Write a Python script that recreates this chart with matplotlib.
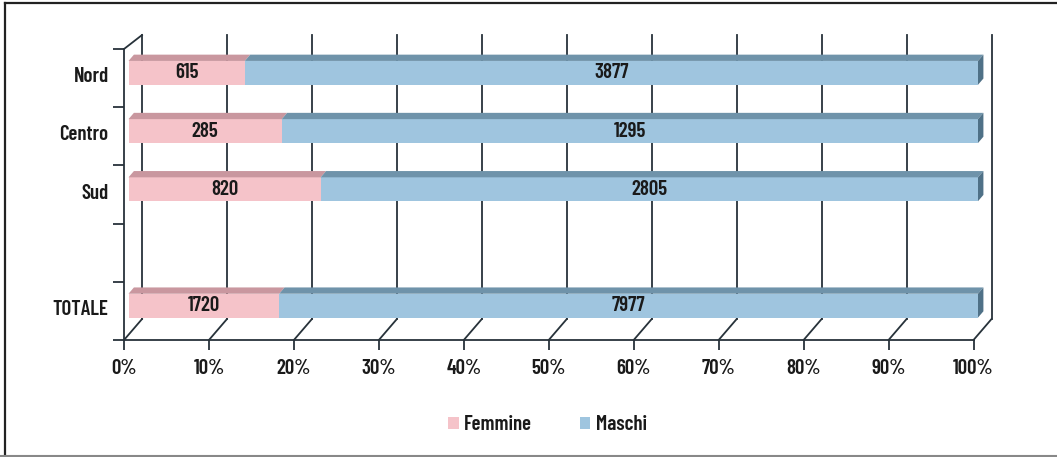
import matplotlib
matplotlib.use("Agg")
import matplotlib.pyplot as plt
from matplotlib.patches import Rectangle, Polygon, Patch
from matplotlib.lines import Line2D

plt.rcParams['font.family'] = ['Barlow Condensed', 'Archivo Narrow', 'DejaVu Sans']
plt.rcParams['font.stretch'] = 'condensed'
plt.rcParams['font.weight'] = 600

# data
categories = ["Nord", "Centro", "Sud", "", "TOTALE"]
femmine = [615, 285, 820, 0, 1720]
maschi = [3877, 1295, 2805, 0, 7977]
x_ticks = [0, 10, 20, 30, 40, 50, 60, 70, 80, 90, 100]

pink = "#f5c3c9"
pink_top = "#c9979f"
blue = "#9fc5df"
blue_top = "#6f93aa"
blue_side = "#4f7187"
line_col = "#27323a"
text_col = "#1a1a1a"
fs = 15

fig = plt.figure(figsize=(10.57, 4.57), dpi=100)
fig.patch.set_facecolor("white")
ax = fig.add_axes([124 / 1057, 117 / 457, 849.5 / 1057, 291 / 457])
ax.set_xlim(0, 100)
ax.set_ylim(0, 5)
ax.patch.set_alpha(0)

# 3d depth offsets in data units
dx = 2.12
dy = 0.36
top_back = 5.24
df, db = 0.25, 0.55
h = 0.41

# back wall lines + floor diagonals
for t in x_ticks:
    ax.plot([t + dx, t + dx], [dy, top_back], color=line_col, lw=1.3, zorder=1, clip_on=False)
    ax.plot([t, t + dx], [0, dy], color=line_col, lw=1.3, zorder=1, clip_on=False)
ax.plot([0, dx], [5, top_back], color=line_col, lw=1.3, zorder=1, clip_on=False)

n = len(categories)
for i, cat in enumerate(categories):
    tot = femmine[i] + maschi[i]
    if tot == 0:
        continue
    c = n - 1 - i + 0.5
    pf = femmine[i] / tot * 100
    segs = [(0, pf, pink, pink_top, femmine[i]), (pf, 100, blue, blue_top, maschi[i])]
    y0 = c - h / 2 + df * dy
    y1 = c + h / 2 + df * dy
    for a, b, col, tcol, val in segs:
        ax.add_patch(Rectangle((a + df * dx, y0), b - a, h, facecolor=col,
                               edgecolor="none", zorder=3, clip_on=False))
        ax.add_patch(Polygon([(a + df * dx, y1), (b + df * dx, y1),
                              (b + db * dx, c + h / 2 + db * dy), (a + db * dx, c + h / 2 + db * dy)],
                             closed=True, facecolor=tcol, edgecolor="none", zorder=3, clip_on=False))
        ax.text((a + b) / 2 + df * dx, c + df * dy, str(val), ha="center", va="center",
                fontsize=fs, color=text_col, zorder=5)
    ax.add_patch(Polygon([(100 + df * dx, y0), (100 + db * dx, c - h / 2 + db * dy),
                          (100 + db * dx, c + h / 2 + db * dy), (100 + df * dx, y1)],
                         closed=True, facecolor=blue_side, edgecolor="none", zorder=3, clip_on=False))

# axes styling
for s in ["top", "right"]:
    ax.spines[s].set_visible(False)
for s in ["left", "bottom"]:
    ax.spines[s].set_color(line_col)
    ax.spines[s].set_linewidth(1.3)
    ax.spines[s].set_zorder(6)

ax.set_xticks(x_ticks)
ax.set_xticklabels([f"{t}%" for t in x_ticks])
ax.tick_params(axis="x", length=7, width=1.3, color=line_col, pad=7,
               labelsize=fs, labelcolor=text_col)

ax.set_yticks([n - 1 - i + 0.56 for i in range(n)])
ax.set_yticklabels(categories)
ax.tick_params(axis="y", which="major", length=0, pad=11, labelsize=fs, labelcolor=text_col)
ax.set_yticks(range(0, n + 1), minor=True)
ax.tick_params(axis="y", which="minor", length=8, width=1.3, color=line_col)

# legend
handles = [Patch(facecolor=pink, edgecolor="none", label="Femmine"),
           Patch(facecolor=blue, edgecolor="none", label="Maschi")]
fig.legend(handles=handles, loc="center", bbox_to_anchor=(0.518, 1 - 425 / 457), ncol=2,
           frameon=False, fontsize=fs, handlelength=0.5, handleheight=0.5,
           handletextpad=0.25, columnspacing=2.3, labelcolor=text_col)

# frame around the chart
fig.add_artist(Line2D([5 / 1057, 5 / 1057], [0, 1 - 3 / 457], color="#222222", lw=1.6))
fig.add_artist(Line2D([5 / 1057, 1], [1 - 3 / 457, 1 - 3 / 457], color="#222222", lw=1.6))
fig.add_artist(Line2D([0, 1], [1 / 457, 1 / 457], color="#888888", lw=1.5))

fig.savefig("out.png", dpi=100)
